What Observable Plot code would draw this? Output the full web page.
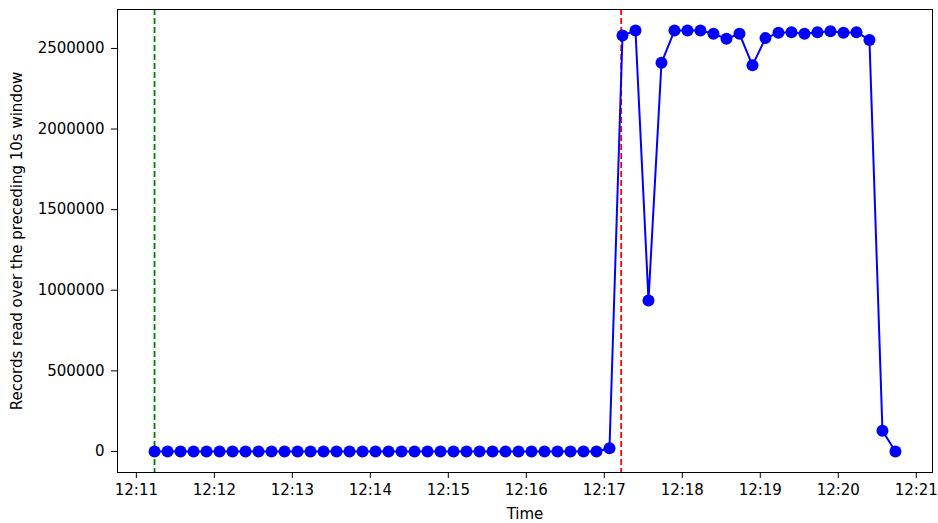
<!DOCTYPE html>
<html>
<head>
<meta charset="utf-8">
<script src="https://cdn.jsdelivr.net/npm/d3@7"></script>
<script src="https://cdn.jsdelivr.net/npm/@observablehq/plot@0.6"></script>
<style>
  html, body { margin: 0; padding: 0; background: #fff; }
  #chart { width: 938px; height: 523px; overflow: hidden; }
</style>
</head>
<body>
<div id="chart"></div>
<script>
const times = [
  "12:11:14","12:11:24","12:11:34","12:11:44","12:11:54",
  "12:12:04","12:12:14","12:12:24","12:12:34","12:12:44","12:12:54",
  "12:13:04","12:13:14","12:13:24","12:13:34","12:13:44","12:13:54",
  "12:14:04","12:14:14","12:14:24","12:14:34","12:14:44","12:14:54",
  "12:15:04","12:15:14","12:15:24","12:15:34","12:15:44","12:15:54",
  "12:16:04","12:16:14","12:16:24","12:16:34","12:16:44","12:16:54",
  "12:17:04","12:17:14","12:17:24","12:17:34","12:17:44","12:17:54",
  "12:18:04","12:18:14","12:18:24","12:18:34","12:18:44","12:18:54",
  "12:19:04","12:19:14","12:19:24","12:19:34","12:19:44","12:19:54",
  "12:20:04","12:20:14","12:20:24","12:20:34","12:20:44"
];
const records = [
  0,0,0,0,0,
  0,0,0,0,0,0,
  0,0,0,0,0,0,
  0,0,0,0,0,0,
  0,0,0,0,0,0,
  0,0,0,0,0,0,
  20000,2580000,2611000,937000,2411000,2611000,
  2611000,2611000,2591000,2560000,2591000,2395000,
  2564000,2597000,2601000,2591000,2601000,2607000,
  2597000,2601000,2553000,128000,0
];
const startMarker = "12:11:14";
const endMarker = "12:17:13";
const yTicks = [0, 500000, 1000000, 1500000, 2000000, 2500000];
const xTicks = ["12:11","12:12","12:13","12:14","12:15","12:16","12:17","12:18","12:19","12:20","12:21"];

const parseT = s => {
  const p = s.split(":").map(Number);
  return new Date(Date.UTC(2024, 0, 1, p[0], p[1], p[2] || 0));
};
const data = times.map((t, i) => ({t: parseT(t), v: records[i]}));

const [x0, x1] = d3.extent(data, d => d.t);
const xPad = (x1 - x0) * 0.05;
const [y0, y1] = d3.extent(data, d => d.v);
const yPad = (y1 - y0) * 0.05;

const font = "DejaVu Sans, sans-serif";
const chart = Plot.plot({
  width: 938,
  height: 523,
  marginLeft: 117,
  marginRight: 6,
  marginTop: 9,
  marginBottom: 51,
  style: {fontFamily: font, fontSize: "15px", color: "#000", background: "#fff", overflow: "visible"},
  x: {type: "utc", domain: [new Date(+x0 - xPad), new Date(+x1 + xPad)]},
  y: {domain: [y0 - yPad, y1 + yPad]},
  marks: [
    Plot.ruleX([parseT(startMarker)], {stroke: "green", strokeWidth: 1.8, strokeDasharray: "6,3"}),
    Plot.ruleX([parseT(endMarker)], {stroke: "red", strokeWidth: 1.8, strokeDasharray: "6,3"}),
    Plot.line(data, {x: "t", y: "v", stroke: "#0000ff", strokeWidth: 2}),
    Plot.dot(data, {x: "t", y: "v", r: 6, fill: "#0000ff", stroke: "none"}),
    Plot.frame({stroke: "#000", strokeWidth: 1}),
    Plot.axisY({ticks: yTicks, tickFormat: d => String(d), tickSize: 6, tickPadding: 7,
      label: "Records read over the preceding 10s window", labelAnchor: "center", labelArrow: "none", labelOffset: 106, fontSize: 15}),
    Plot.axisX({ticks: xTicks.map(parseT), tickFormat: d3.utcFormat("%H:%M"), tickSize: 6, tickPadding: 6,
      label: "Time", labelAnchor: "center", labelArrow: "none", labelOffset: 46, fontSize: 15})
  ]
});
document.getElementById("chart").appendChild(chart);
</script>
</body>
</html>
